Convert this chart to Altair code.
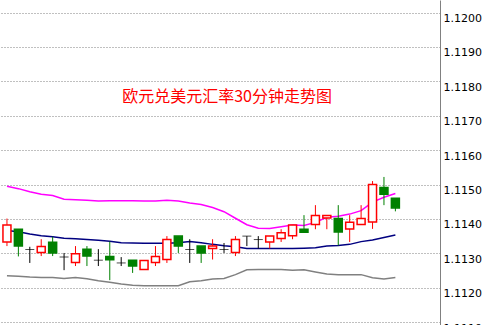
import altair as alt
import pandas as pd

# OHLC for 35 half-hour candles (EUR/USD)
opens = [1.11333, 1.11370, 1.11311, 1.11302, 1.11332, 1.11289, 1.11273, 1.11312, 1.11280, 1.11291,
         1.11272, 1.11280, 1.11253, 1.11273, 1.11282, 1.11350, 1.11311, 1.11321, 1.11314, 1.11311,
         1.11302, 1.11350, 1.11340, 1.11333, 1.11343, 1.11351, 1.11370, 1.11384, 1.11403, 1.11401,
         1.11371, 1.11384, 1.11391, 1.11491, 1.11460]
highs = [1.11401, 1.11370, 1.11319, 1.11341, 1.11348, 1.11301, 1.11321, 1.11321, 1.11312, 1.11334,
         1.11289, 1.11280, 1.11279, 1.11321, 1.11350, 1.11350, 1.11341, 1.11321, 1.11341, 1.11330,
         1.11350, 1.11350, 1.11350, 1.11350, 1.11370, 1.11382, 1.11411, 1.11440, 1.11410, 1.11440,
         1.11411, 1.11440, 1.11510, 1.11522, 1.11460]
lows = [1.11321, 1.11291, 1.11272, 1.11292, 1.11292, 1.11251, 1.11263, 1.11263, 1.11263, 1.11222,
        1.11263, 1.11243, 1.11253, 1.11263, 1.11272, 1.11301, 1.11272, 1.11272, 1.11282, 1.11301,
        1.11292, 1.11321, 1.11314, 1.11314, 1.11333, 1.11341, 1.11361, 1.11370, 1.11370, 1.11323,
        1.11333, 1.11384, 1.11371, 1.11440, 1.11422]
closes = [1.11382, 1.11321, 1.11311, 1.11320, 1.11301, 1.11289, 1.11299, 1.11292, 1.11280, 1.11281,
          1.11272, 1.11263, 1.11279, 1.11291, 1.11340, 1.11321, 1.11311, 1.11301, 1.11321, 1.11311,
          1.11340, 1.11350, 1.11340, 1.11350, 1.11360, 1.11382, 1.11361, 1.11410, 1.11410, 1.11362,
          1.11390, 1.11401, 1.11500, 1.11472, 1.11432]

# Bollinger bands
upper = [1.11495, 1.11488, 1.11479, 1.11472, 1.11468, 1.11457, 1.11456, 1.11454, 1.11452, 1.11453,
         1.11453, 1.11453, 1.11452, 1.11452, 1.11454, 1.11452, 1.11446, 1.11442, 1.11433, 1.11421,
         1.11402, 1.11383, 1.11373, 1.11372, 1.11377, 1.11382, 1.11381, 1.11390, 1.11405, 1.11408,
         1.11414, 1.11424, 1.11449, 1.11463, 1.11474]
middle = [1.11366, 1.11363, 1.11356, 1.11351, 1.11348, 1.11344, 1.11342, 1.11340, 1.11338, 1.11335,
          1.11331, 1.11330, 1.11329, 1.11329, 1.11329, 1.11331, 1.11334, 1.11331, 1.11326, 1.11322,
          1.11319, 1.11314, 1.11314, 1.11314, 1.11314, 1.11314, 1.11315, 1.11316, 1.11321, 1.11323,
          1.11326, 1.11334, 1.11339, 1.11346, 1.11353]
lower = [1.11235, 1.11233, 1.11231, 1.11230, 1.11230, 1.11227, 1.11230, 1.11226, 1.11220, 1.11216,
         1.11211, 1.11207, 1.11206, 1.11206, 1.11206, 1.11206, 1.11217, 1.11220, 1.11225, 1.11227,
         1.11238, 1.11252, 1.11253, 1.11253, 1.11253, 1.11251, 1.11252, 1.11246, 1.11240, 1.11238,
         1.11238, 1.11238, 1.11229, 1.11225, 1.11230]

y_ticks = [1.1110, 1.1120, 1.1130, 1.1140, 1.1150, 1.1160, 1.1170, 1.1180, 1.1190, 1.1200]
title_text = "欧元兑美元汇率30分钟走势图"

n = len(opens)
kinds = ["doji" if o == c else ("up" if c > o else "down") for o, c in zip(opens, closes)]
df = pd.DataFrame({"i": list(range(n)), "open": opens, "high": highs, "low": lows,
                   "close": closes, "kind": kinds,
                   "upper": upper, "middle": middle, "lower": lower})

xs = alt.Scale(domain=[-0.171, 37.468], nice=False, zero=False)
ys = alt.Scale(domain=[1.110916, 1.120364], nice=False, zero=False)
X = alt.X("i:Q", scale=xs, axis=None)
stroke_scale = alt.Scale(domain=["up", "down", "doji"], range=["#ff0000", "#008000", "#000000"])
fill_scale = alt.Scale(domain=["up", "down", "doji"], range=["#ffffff", "#008000", "#000000"])

yaxis = alt.Axis(orient="right", values=y_ticks, format=".4f", ticks=False,
                 labelBaseline="top", labelPadding=3, labelFont="DejaVu Sans",
                 labelFontSize=11, labelColor="#000000", labelFlush=False,
                 labelOverlap=False, domainColor="#808080", domainWidth=1,
                 grid=True, gridColor="#808080", gridDash=[1, 2], gridWidth=1,
                 title=None)


def Y(field):
    return alt.Y(field, scale=ys, axis=yaxis, title=None)


base = alt.Chart(df)

lower_line = base.mark_line(color="#808080", strokeWidth=1.5).encode(x=X, y=Y("lower:Q"))
upper_line = base.mark_line(color="#ff00ff", strokeWidth=1.5).encode(x=X, y=Y("upper:Q"))
middle_line = base.mark_line(color="#000080", strokeWidth=1.5).encode(x=X, y=Y("middle:Q"))

wicks = base.mark_rule(strokeWidth=1).encode(
    x=X, y=Y("low:Q"), y2="high:Q",
    color=alt.Color("kind:N", scale=stroke_scale, legend=None))

bodies = base.transform_filter(alt.datum.kind != "doji").mark_bar(size=8, strokeWidth=1.5).encode(
    x=X, y=Y("open:Q"), y2="close:Q",
    fill=alt.Fill("kind:N", scale=fill_scale, legend=None),
    stroke=alt.Stroke("kind:N", scale=stroke_scale, legend=None))

dojis = base.transform_filter(alt.datum.kind == "doji").mark_tick(
    orient="horizontal", size=9, thickness=1, color="#000000").encode(
    x=X, y=Y("open:Q"))

title = alt.Chart(pd.DataFrame({"t": [title_text]})).mark_text(
    font="Noto Sans CJK SC", fontSize=16, color="#ff0000", align="center", baseline="middle").encode(
    x=alt.value(227), y=alt.value(97), text="t:N")

chart = alt.layer(lower_line, upper_line, middle_line, wicks, bodies, dojis, title).properties(
    width=440, height=325,
    autosize=alt.AutoSizeParams(type="none"),
    padding={"left": 0, "top": 0, "right": 42, "bottom": 0},
    background="#ffffff",
).configure_view(stroke=None)

chart.save("out.html", embed_options={"renderer": "svg", "actions": False})
